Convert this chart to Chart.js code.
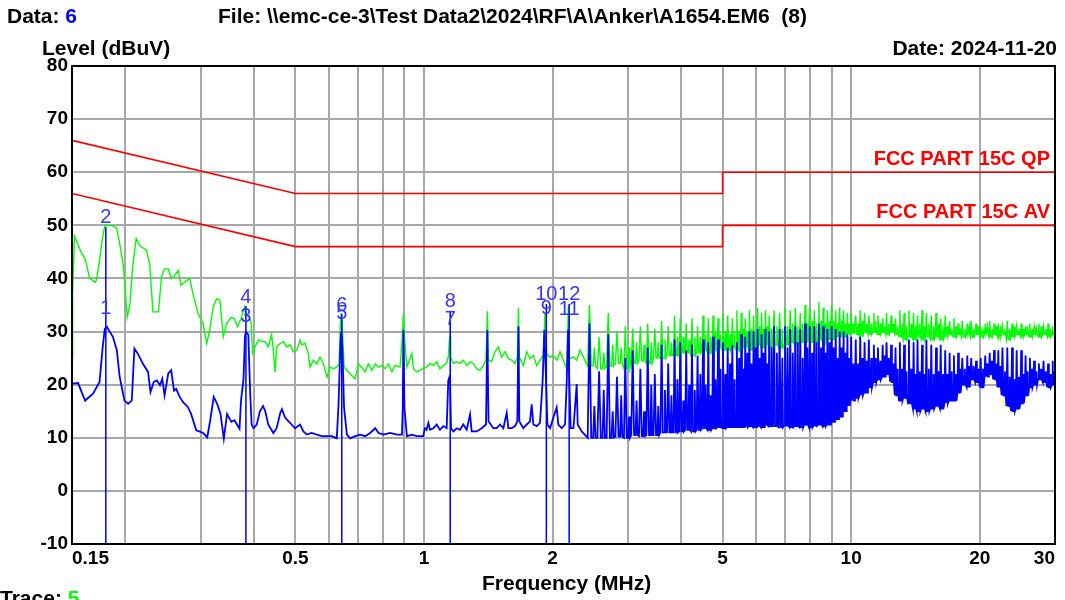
<!DOCTYPE html>
<html>
<head>
<meta charset="utf-8">
<script src="https://cdn.jsdelivr.net/npm/chart.js@4.4.1/dist/chart.umd.min.js"></script>
<style>
  body { margin:0; background:#fff; width:1065px; height:600px; overflow:hidden; position:relative;
         font-family:"Liberation Sans Narrow","Arial Narrow","Liberation Sans",Arial,sans-serif; font-weight:bold; }
  canvas { position:absolute; left:0; top:0; }
  .t { position:absolute; font-size:21px; line-height:22px; white-space:pre; color:#000; }
</style>
</head>
<body>
<canvas id="chart" width="1065" height="600"></canvas>
<div class="t" style="left:7px;top:5px">Data: <span style="color:#0000ff">6</span></div>
<div class="t" style="left:218px;top:5px">File: \\emc-ce-3\Test Data2\2024\RF\A\Anker\A1654.EM6  (8)</div>
<div class="t" style="left:42px;top:37px">Level (dBuV)</div>
<div class="t" style="right:8px;top:37px">Date: 2024-11-20</div>
<div class="t" style="left:482px;top:572px">Frequency (MHz)</div>
<div class="t" style="left:0px;top:587px">Trace: <span style="color:#00ff00">5</span></div>
<script>
// --- axis ticks ---
const gridFreqs = [0.15,0.2,0.3,0.4,0.5,0.6,0.7,0.8,0.9,1,2,3,4,5,6,7,8,9,10,20,30];
const labelFreqs = [0.15,0.5,1,2,5,10,20,30];

// --- limit lines (FCC part 15C) ---
const limitFreq = [0.15, 0.5, 5, 5, 30];
const qpLimit = [66, 56, 56, 60, 60];
const avLimit = [56, 46, 46, 50, 50];
const limitNames = ['FCC PART 15C QP', 'FCC PART 15C AV'];

// --- markers ---
const markerFreq  = [0.180, 0.180, 0.383, 0.383, 0.642, 0.642, 1.152, 1.152, 1.934, 1.934, 2.187, 2.187];
const markerLevel = [32.7, 49.7, 31.2, 34.8, 31.8, 33.3, 30.5, 33.9, 32.7, 35.2, 32.4, 35.2];
const markerLabel = ['1','2','3','4','5','6','7','8','9','10','11','12'];

// --- peak scan (green), below 2.4 MHz: [MHz, dBuV] ---
const peakLow = [
  [0.150,25],[0.1505,37],[0.152,48],[0.158,44.7],[0.161,43.7],[0.165,40],[0.170,39.3],[0.171,39.6],[0.174,43.4],[0.177,47.8],
  [0.179,50],[0.186,50],[0.191,49.4],[0.194,46.5],[0.198,42.2],[0.202,32.7],[0.205,35.2],[0.208,42.2],[0.212,47.5],[0.216,46.2],
  [0.224,45.3],[0.228,42.8],[0.232,33.7],[0.239,33.7],[0.243,40.3],[0.247,41.8],[0.252,41.8],[0.256,40],[0.261,40.6],[0.266,41.5],
  [0.270,38.7],[0.278,39.6],[0.283,40],[0.288,37.1],[0.296,33.4],[0.304,31.5],[0.310,27.7],[0.315,30.2],[0.321,34.6],[0.327,36.2],
  [0.333,35.9],[0.339,29],[0.345,31.5],[0.354,32.7],[0.360,32.4],[0.366,30.9],[0.373,32.4],[0.380,34.6],
  [0.383,33],[0.390,32.9],[0.394,31.6],[0.397,25.9],[0.402,27.1],[0.410,28.4],[0.417,28.1],[0.425,28.1],[0.432,27.1],[0.440,29.4],
  [0.444,26.5],[0.448,22.4],[0.452,27.1],[0.461,27.8],[0.469,28.1],[0.477,27.1],[0.486,27.5],[0.495,26.2],[0.504,26.5],[0.513,28.4],
  [0.518,27.5],[0.527,27.8],[0.536,25.9],[0.541,23.3],[0.551,24.6],[0.561,23.9],[0.571,25.2],[0.582,23.9],[0.593,21.4],[0.603,23.3],
  [0.614,23],[0.625,23.3],[0.633,23.9],[0.637,31.6],[0.640,33.5],[0.644,31],[0.650,23.3],[0.660,22.7],[0.672,22],[0.690,21.1],
  [0.702,23.9],[0.715,23.3],[0.728,22.4],[0.741,23.9],[0.755,22.7],[0.769,23.9],[0.783,23.3],[0.797,23.6],[0.811,23],[0.826,23.9],
  [0.841,22.4],[0.856,23.6],[0.879,23.3],[0.891,29.7],[0.895,33.5],[0.900,29],[0.912,23.3],[0.937,25.9],[0.945,23],[0.962,22.4],
  [0.996,23],[1.014,23.3],[1.033,24],[1.052,23.6],[1.071,24.3],[1.090,23],[1.110,23.6],[1.130,24],[1.140,25.2],[1.147,28.4],
  [1.151,29],[1.155,25.2],[1.171,24],[1.193,24.3],[1.214,24],[1.236,24.6],[1.259,23.6],[1.282,24.3],[1.305,24],[1.328,23],
  [1.352,22.7],[1.377,23.6],[1.397,24.6],[1.407,33.8],[1.416,24.6],[1.440,24.3],[1.466,26.2],[1.493,27.1],[1.520,25.2],[1.548,26.2],
  [1.576,24.9],[1.605,24.6],[1.634,24],[1.654,25.2],[1.664,34.5],[1.672,25.2],[1.708,23.6],[1.740,26.2],[1.771,24.9],[1.803,25.5],
  [1.836,23.6],[1.869,24.6],[1.903,25.5],[1.920,33.5],[1.931,25.9],[1.973,25.2],[2.009,25.5],[2.045,24.6],[2.082,26.2],[2.120,24.6],
  [2.159,23],[2.178,34.8],[2.189,24.9],[2.238,25.2],[2.278,24.6],[2.319,26.5]
];

// --- average scan (blue), below 2.4 MHz ---
const avgLow = [
  [0.150,20.2],[0.155,20.3],[0.158,18.6],[0.161,17],[0.163,17.4],[0.168,18.3],[0.174,20.5],[0.177,27.1],[0.179,30.5],[0.181,30.9],
  [0.184,29.9],[0.187,29],[0.191,26.5],[0.194,21.4],[0.199,17],[0.203,16.4],[0.207,17],[0.210,26.8],[0.214,25.8],[0.220,23.9],
  [0.226,22.4],[0.229,18.6],[0.233,20.5],[0.237,20.8],[0.241,19.9],[0.244,21.1],[0.247,18],[0.252,22.1],[0.256,22.7],[0.260,18.9],
  [0.263,19.2],[0.268,17.7],[0.273,16.7],[0.280,15.8],[0.285,14.5],[0.293,11.4],[0.300,11.1],[0.305,10.8],[0.311,10.1],[0.316,13.3],
  [0.322,17.7],[0.328,16.4],[0.334,14.5],[0.340,9.8],[0.346,14.5],[0.354,13],[0.360,13.3],[0.370,11.7],[0.373,17],[0.378,21],
  [0.381,29],[0.383,30],[0.388,29.4],[0.392,18.2],[0.395,12.5],[0.399,11.8],[0.406,12.5],[0.413,15],[0.420,16],[0.425,15],
  [0.432,12.5],[0.444,10.9],[0.452,11.8],[0.461,14.7],[0.465,15.4],[0.473,13.8],[0.482,13.1],[0.490,12.5],[0.499,11.8],[0.513,12.5],
  [0.522,11.2],[0.532,10.6],[0.546,10.9],[0.561,10.6],[0.577,10.3],[0.593,10.3],[0.609,10.3],[0.625,9.9],[0.631,16.3],[0.637,27.1],
  [0.640,30],[0.644,27.1],[0.650,15.7],[0.660,10.6],[0.672,9.9],[0.690,10.3],[0.709,10.6],[0.728,10.3],[0.748,10.9],[0.769,11.8],
  [0.783,10.9],[0.804,10.6],[0.833,10.9],[0.864,10.6],[0.888,10.6],[0.892,15.7],[0.895,30.3],[0.900,15.7],[0.912,10.3],[0.937,10.6],
  [0.962,10.3],[0.996,10.3],[1.005,11.8],[1.014,11.5],[1.024,12.8],[1.033,11.5],[1.052,11.8],[1.071,12.5],[1.090,11.5],[1.110,12.2],
  [1.130,11.8],[1.140,20.8],[1.147,21.4],[1.151,20.8],[1.157,11.8],[1.171,11.2],[1.193,11.8],[1.214,11.5],[1.236,12.5],[1.259,11.5],
  [1.282,14.4],[1.293,11.2],[1.328,11.2],[1.365,11.8],[1.397,12.5],[1.407,30.3],[1.416,13.1],[1.453,11.8],[1.480,11.8],[1.507,12.5],
  [1.534,11.8],[1.562,14.7],[1.576,11.8],[1.605,11.8],[1.634,12.2],[1.654,13.1],[1.664,31],[1.672,13.1],[1.708,11.8],[1.740,12.5],
  [1.771,13.1],[1.787,16.3],[1.803,12.5],[1.836,12.2],[1.869,12.8],[1.896,20.8],[1.913,30.3],[1.931,20.8],[1.945,12.5],[1.973,11.8],
  [2.009,13.8],[2.045,15.7],[2.063,12.5],[2.101,11.8],[2.139,12.5],[2.159,20.8],[2.174,30.3],[2.189,20.8],[2.205,11.8],[2.238,11.8],
  [2.278,20.1],[2.290,12.5],[2.340,11.2]
];

// --- above 2.4 MHz: harmonic comb (spike top, floor around it, lower spike halfway to the next) ---
const hfFreq = [2.44,2.57,2.70,2.83,2.96,3.08,3.21,3.34,3.47,3.60,3.73,3.86,3.98,4.11,4.24,4.37,4.50,4.63,4.75,4.88,
  5.01,5.14,5.27,5.40,5.53,5.65,5.78,5.91,6.04,6.17,6.30,6.43,6.6,6.8,7.0,7.2,7.4,7.6,7.8,8.0,
  8.2,8.4,8.6,8.8,9.0,9.2,9.4,9.6,9.8,10.0,10.25,10.5,10.75,11.0,11.3,11.55,11.85,12.1,12.4,12.7,
  13.0,13.3,13.65,14.0,14.3,14.65,15.0,15.4,15.8,16.2,16.6,17.0,17.4,17.8,18.2,18.7,19.1,19.6,20.1,20.6,
  21.1,21.6,22.1,22.6,23.2,23.8,24.4,25.0,25.6,26.2,26.8,27.5,28.2,28.9,29.6,30.0];
const peakTop = [35,29,33.5,30,31,30.5,31,31.5,30.5,32,31,33,32.5,31.5,32.5,31,33,32.5,33,32.5,
  33.5,33,32.5,34,33.5,32.5,34,33,34.5,33.5,34,33,34,33.5,34.5,34,34.5,33.5,35,34.5,
  34,35.5,34.5,34,35,34,34.5,34,33.5,33.5,33,34,33.5,33,33.5,33,32.5,33.5,33,32.5,
  34,33.5,34,33.5,33,34,33.5,33,33.5,32.5,33,32,32.5,31.5,32,31.5,32,31.5,31,31.5,
  32,31.5,31.5,31,32,31.5,31,31.5,31,31.5,31,31.5,31,31.5,31,30.5];
const peakFloor = [23.5,23,23.5,24,23,24,24.5,24,25,25,25.5,25.5,26,26,25.5,26,26.5,26,26.5,27,
  26.5,26.5,27,26.5,27,27,26.5,27,27.5,27,27.5,27,27.5,27,27.5,28,27.5,28,28,28,
  28,28.5,28,28.5,28.5,29,29,29,29.5,29.5,29.5,29,30,29.5,30,29.5,30,29.5,30,29.5,
  29,28.5,29,28.5,29,28.5,29,28.5,29,28.5,29,29.5,29,29.5,29,29.5,29,29.5,29,29.5,
  29,29.5,29,29.5,28.5,29,29.5,29,29.5,29,29.5,29,29.5,29,29.5,29.5];
const peakMid = [27,26,27.5,27,27,28,27.5,28,28,28.5,28,29,29,28.5,29,29,29.5,29,30,29.5,
  30,29.5,30,30,30.5,30,30.5,30,31,30.5,31,30.5,31,30.5,31,31.5,31,31.5,31.5,32,
  31.5,32,31.5,32,32,31.5,32,31.5,31.5,31.5,31.5,32,31.5,31.5,32,31.5,31,31.5,31.5,31,
  31.5,31,31.5,31,31.5,31,31.5,31,31.5,31,31,30.5,31,30.5,30.5,31,30.5,31,30.5,31,
  30.5,31,30.5,30.5,30.5,31,30.5,30.5,31,30.5,30.5,31,30.5,30.5,30];
const avgTop = [31.5,22.5,29.5,21.5,25,26.5,23,27,22,27.5,24,28.5,28,26.5,27.5,25.5,28.5,28,29,28.5,
  28,27,27.5,28,29.5,29,30,30,30.5,29.5,30.5,30,31,30.5,31,30.5,31,30.5,31.5,31,
  31,31.5,31,30.5,31,30.5,30,30,29.5,29,28.5,29,28,28.5,27.5,27,27.5,28,27.5,27,
  28,27.5,28.5,28,28.5,27.5,28.5,27.5,27,27.5,26.5,26,25.5,26,25,25.5,25,24.5,25,25.5,
  26,26.5,26.5,27,27,27,26.5,26.5,25.5,25,24.5,24,24.5,24,24.5,24];
const avgFloor = [10,10,10,10.2,10,10.5,10.3,10.5,10.5,11,11,11,11.2,11.5,11.2,11.5,11.8,11.5,11.8,12,
  11.8,12,12,12,12,12,12.2,12,12.2,12,12.3,12.2,12.2,12,12.3,12,12.2,12,12.5,12,
  12.3,12.5,12.2,12.5,13,13.5,14,15,16,17,17.5,18,18.5,19.5,20.5,21,21.5,22,20.5,18,
  17,17.5,16.5,15.5,15,15.5,15,15.5,16,15.5,16.5,17,17,18.5,20,19.5,21,20.5,19.5,21.5,
  22,21,19.5,18,16,15,15.5,16.5,18,19.5,20,21,20.5,19.5,20,21];
const avgMid = [16,19,15,18,14,17,15,20,16,19,18,21,17,20,19,22,20,18,21,23,
  22,24,21,25,23,26,24,27,25,26,24,27,26,25,27,26,28,25,27,26,
  28,27,26,28,27,25,27,26,25,24,24,25,24.5,25,25,24.5,25.5,25,24,23,
  23,22.5,23,22,22.5,22,23,22,22.5,22,22,22.5,22,23,23,23.5,23.5,23,23,24,
  24.5,24,23.5,22.5,21.5,21,21.5,22,22.5,23,22.5,23,22.5,22,22.5];

// each comb entry becomes a narrow spike standing on its floor, plus a lower one halfway on
function scanPoints(low, top, floor, mid) {
  const pts = low.map(([x, y]) => ({x, y}));
  hfFreq.forEach((f, i) => {
    const next = i < hfFreq.length - 1 ? hfFreq[i + 1] : 2 * f - hfFreq[i - 1];
    const w = 0.18 * (next - f);
    pts.push({x: f - w, y: floor[i]}, {x: f, y: top[i]}, {x: f + w, y: floor[i]});
    if (i < mid.length) {
      const m = (f + next) / 2;
      pts.push({x: m - 0.7 * w, y: floor[i]}, {x: m, y: mid[i]}, {x: m + 0.7 * w, y: floor[i]});
    }
  });
  return pts;
}

const markerLines = [];
[...new Set(markerFreq)].forEach(f => {
  const top = Math.max(...markerLevel.filter((v, i) => markerFreq[i] === f));
  markerLines.push({x: f, y: top}, {x: f, y: -10}, {x: f, y: null});
});

const tickFont = {family: "'Liberation Sans Narrow','Arial Narrow','Liberation Sans',Arial,sans-serif", size: 19, weight: 'bold'};

const annotate = {
  id: 'annotate',
  afterDatasetsDraw(chart) {
    const {ctx, chartArea: a, scales: {x, y}} = chart;
    ctx.save();
    ctx.strokeStyle = '#000'; ctx.lineWidth = 2;
    ctx.strokeRect(a.left, a.top, a.right - a.left, a.bottom - a.top);
    ctx.font = 'bold 20px "Liberation Sans", Arial, sans-serif';
    ctx.fillStyle = '#ff0000'; ctx.textAlign = 'right'; ctx.textBaseline = 'alphabetic';
    [qpLimit, avLimit].forEach((lim, i) => {
      ctx.fillText(limitNames[i], a.right - 5, y.getPixelForValue(lim[lim.length - 1]) - 7);
    });
    ctx.font = '20px "Liberation Sans", Arial, sans-serif';
    ctx.fillStyle = '#3535ff'; ctx.textAlign = 'center'; ctx.textBaseline = 'middle';
    markerLabel.forEach((t, i) => {
      ctx.fillText(t, x.getPixelForValue(markerFreq[i]), y.getPixelForValue(markerLevel[i]) - 9);
    });
    ctx.restore();
  }
};

new Chart(document.getElementById('chart'), {
  type: 'line',
  data: {
    datasets: [
      {data: markerLines, borderColor: '#0000ff', borderWidth: 1.5, order: 0},
      {data: scanPoints(avgLow, avgTop, avgFloor, avgMid), borderColor: '#0000ff', borderWidth: 1.8, order: 1},
      {data: scanPoints(peakLow, peakTop, peakFloor, peakMid), borderColor: '#00ff00', borderWidth: 1.4, order: 2},
      {data: limitFreq.map((f, i) => ({x: f, y: qpLimit[i]})), borderColor: '#ff0000', borderWidth: 1.6, order: 3},
      {data: limitFreq.map((f, i) => ({x: f, y: avLimit[i]})), borderColor: '#ff0000', borderWidth: 1.6, order: 3}
    ]
  },
  options: {
    responsive: false, animation: false, devicePixelRatio: 1,
    layout: {padding: {left: 0, right: 10, top: 66, bottom: 0}},
    plugins: {legend: {display: false}, tooltip: {enabled: false}},
    elements: {point: {radius: 0}, line: {tension: 0}},
    scales: {
      x: {
        type: 'logarithmic', min: 0.15, max: 30,
        afterBuildTicks: s => { s.ticks = gridFreqs.map(v => ({value: v})); },
        afterFit: s => { s.height = 56; },
        grid: {color: '#a8a8a8', lineWidth: 2, drawTicks: false},
        border: {color: '#000', width: 2},
        ticks: {autoSkip: false, maxRotation: 0, align: 'inner', padding: 3, color: '#000', font: tickFont,
                callback: v => labelFreqs.includes(v) ? String(v) : ''}
      },
      y: {
        min: -10, max: 80,
        afterFit: s => { s.width = 72; },
        grid: {color: '#a8a8a8', lineWidth: 2, drawTicks: false},
        border: {color: '#000', width: 2},
        ticks: {stepSize: 10, padding: 4, color: '#000', font: tickFont}
      }
    }
  },
  plugins: [annotate]
});
</script>
</body>
</html>
